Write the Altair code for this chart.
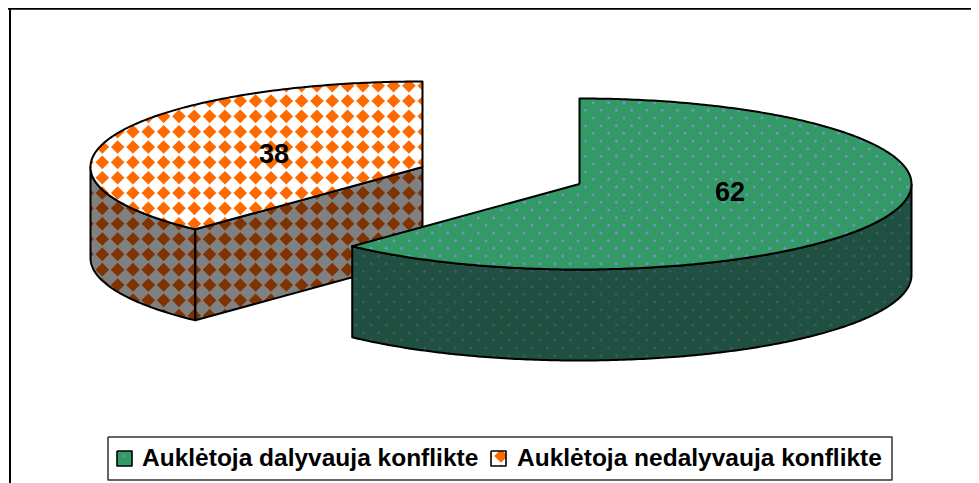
import math
import altair as alt
import pandas as pd

alt.data_transformers.disable_max_rows()

categories = ["Auklėtoja dalyvauja konflikte", "Auklėtoja nedalyvauja konflikte"]
values = [62, 38]
tilt_rx, tilt_ry, depth = 332, 85.5, 91
green_centre = (579.5, 184)
orange_centre = (422.5, 167)
label_positions = [(730, 193), (274, 155)]
legend_box = (108, 437, 892, 480)
legend_text_x = [142, 517]
legend_text_y = 459
swatches = [(117, 451, 132, 466), (491, 451, 506, 466)]

GREEN, GREEN_SIDE, DOT, DOT_SIDE = "#339966", "#1f5040", "#7f90cc", "#3f5a78"
ORANGE, BROWN, GREY = "#ff6a00", "#803300", "#808080"
PITCH = 15.33
DIAG = 13.6

W, H = 963, 475
X = alt.X("x:Q", axis=None, scale=alt.Scale(domain=[8, 8 + W], nice=False, zero=False))
Y = alt.Y("y:Q", axis=None, scale=alt.Scale(domain=[8 + H, 8], nice=False, zero=False))


def arc(c, a0, a1, dy=0):
    n = max(2, int(abs(a1 - a0) * 1.5))
    out = []
    for i in range(n + 1):
        t = math.radians(a0 + (a1 - a0) * i / n)
        out.append((c[0] + tilt_rx * math.sin(t), c[1] - tilt_ry * math.cos(t) + dy))
    return out


def closed(p):
    return list(p) + [p[0]]


def frame(polys):
    rows = []
    for g, p in enumerate(polys):
        for i, (x, y) in enumerate(p):
            rows.append({"g": g, "i": i, "x": x, "y": y})
    return pd.DataFrame(rows)


def shape(polys, fill=None, stroke=None, width=2.0):
    kw = {"strokeWidth": width if stroke else 0, "strokeJoin": "round", "clip": True}
    kw["stroke"] = stroke if stroke else "transparent"
    if fill:
        kw["fill"] = fill
    return alt.Chart(frame(polys)).mark_line(**kw).encode(x=X, y=Y, order="i:Q", detail="g:N")


def clip_to_diamond(subject, cx, cy, r):
    edges = [(1, 1), (-1, 1), (-1, -1), (1, -1)]
    out = subject
    for sx, sy in edges:
        inside = lambda p: sx * (p[0] - cx) + sy * (p[1] - cy) <= r
        cur, out = out, []
        for k, p in enumerate(cur):
            q = cur[(k + 1) % len(cur)]
            ip, iq = inside(p), inside(q)
            if ip:
                out.append(p)
            if ip != iq:
                dp = sx * (p[0] - cx) + sy * (p[1] - cy) - r
                dq = sx * (q[0] - cx) + sy * (q[1] - cy) - r
                t = dp / (dp - dq)
                out.append((p[0] + t * (q[0] - p[0]), p[1] + t * (q[1] - p[1])))
        if not out:
            return []
    return out


def bbox(region):
    xs, ys = zip(*region)
    return min(xs), min(ys), max(xs), max(ys)


def diamonds(region, color, anchor=(148.3, 131.7)):
    x0, y0, x1, y1 = bbox(region)
    polys = []
    i0 = math.floor((x0 - anchor[0]) / PITCH) - 1
    i1 = math.ceil((x1 - anchor[0]) / PITCH) + 1
    j0 = math.floor((y0 - anchor[1]) / PITCH) - 1
    j1 = math.ceil((y1 - anchor[1]) / PITCH) + 1
    for i in range(i0, i1 + 1):
        for j in range(j0, j1 + 1):
            p = clip_to_diamond(region, anchor[0] + i * PITCH, anchor[1] + j * PITCH, DIAG / 2)
            if len(p) >= 3:
                polys.append(p)
    return shape(polys, fill=color)


def contains(region, x, y):
    hit = False
    for k, p in enumerate(region):
        q = region[(k + 1) % len(region)]
        if (p[1] > y) != (q[1] > y) and x < p[0] + (y - p[1]) * (q[0] - p[0]) / (q[1] - p[1]):
            hit = not hit
    return hit


def dots(region, color, anchor=(593.3, 102.7), size=9):
    x0, y0, x1, y1 = bbox(region)
    rows = []
    step = PITCH / 2
    for j in range(math.floor((y0 - anchor[1]) / step), math.ceil((y1 - anchor[1]) / step) + 1):
        y = anchor[1] + j * step
        off = step if j % 2 else 0
        for i in range(math.floor((x0 - anchor[0]) / PITCH) - 1, math.ceil((x1 - anchor[0]) / PITCH) + 2):
            x = anchor[0] + off + i * PITCH
            if contains(region, x, y):
                rows.append({"x": x, "y": y})
    return alt.Chart(pd.DataFrame(rows)).mark_point(
        filled=True, shape="circle", size=size, color=color, opacity=0.9
    ).encode(x=X, y=Y)


split = values[0] / sum(values) * 360

# orange slice
o_top = [orange_centre] + arc(orange_centre, split, 360)
o_curve = arc(orange_centre, split, 270) + arc(orange_centre, 270, split, depth)
o_p = arc(orange_centre, split, split)[0]
o_flat = [o_p, orange_centre, (orange_centre[0], orange_centre[1] + depth), (o_p[0], o_p[1] + depth)]

# green slice
g_top = [green_centre] + arc(green_centre, 0, split)
g_side = arc(green_centre, 90, split) + arc(green_centre, split, 90, depth)

layers = [
    shape([o_curve, o_flat], fill=GREY),
    diamonds(o_curve, BROWN),
    diamonds(o_flat, BROWN),
    shape([closed(o_curve), closed(o_flat)], stroke="#000000"),
    shape([o_top], fill="#ffffff"),
    diamonds(o_top, ORANGE),
    shape([closed(o_top)], stroke="#000000"),
    shape([g_side], fill=GREEN_SIDE),
    dots(g_side, DOT_SIDE),
    shape([closed(g_side)], stroke="#000000"),
    shape([g_top], fill=GREEN),
    dots(g_top, DOT),
    shape([closed(g_top)], stroke="#000000"),
]

# chart frame (top and left only, the rest runs off the picture)
layers.append(shape([[(8, 8.8), (979, 8.8)]], stroke="#000000", width=1.8))
layers.append(shape([[(10, 8), (10, 483)]], stroke="#000000", width=2))

# value labels
labels = pd.DataFrame({
    "x": [p[0] for p in label_positions],
    "y": [p[1] for p in label_positions],
    "v": [str(v) for v in values],
})
layers.append(alt.Chart(labels).mark_text(
    font="Liberation Sans", fontWeight="bold", fontSize=27, color="#000000", baseline="middle", align="center"
).encode(x=X, y=Y, text="v:N"))

# legend
lx0, ly0, lx1, ly1 = legend_box
box = closed([(lx0, ly0), (lx1, ly0), (lx1, ly1), (lx0, ly1)])
layers.append(shape([box], fill="#ffffff"))
layers.append(shape([box], stroke="#333333", width=1.5))
s0 = [(swatches[0][0], swatches[0][1]), (swatches[0][2], swatches[0][1]), (swatches[0][2], swatches[0][3]), (swatches[0][0], swatches[0][3])]
s1 = [(swatches[1][0], swatches[1][1]), (swatches[1][2], swatches[1][1]), (swatches[1][2], swatches[1][3]), (swatches[1][0], swatches[1][3])]
layers.append(shape([s0], fill=GREEN))
layers.append(dots(s0, DOT, anchor=(124.5, 456), size=7))
layers.append(shape([closed(s0)], stroke="#000000", width=1.6))
layers.append(shape([s1], fill="#ffffff"))
layers.append(diamonds(s1, ORANGE, anchor=(501, 456)))
layers.append(shape([closed(s1)], stroke="#000000", width=1.6))
legend_text = pd.DataFrame({"x": legend_text_x, "y": [legend_text_y] * 2, "t": categories})
layers.append(alt.Chart(legend_text).mark_text(
    font="Liberation Sans", fontWeight="bold", fontSize=24.5, color="#000000", baseline="middle", align="left"
).encode(x=X, y=Y, text="t:N"))

chart = alt.layer(*layers).properties(width=W, height=H, padding=0).configure_view(stroke=None)
chart.save("out.html", embed_options={"renderer": "svg", "actions": False})
